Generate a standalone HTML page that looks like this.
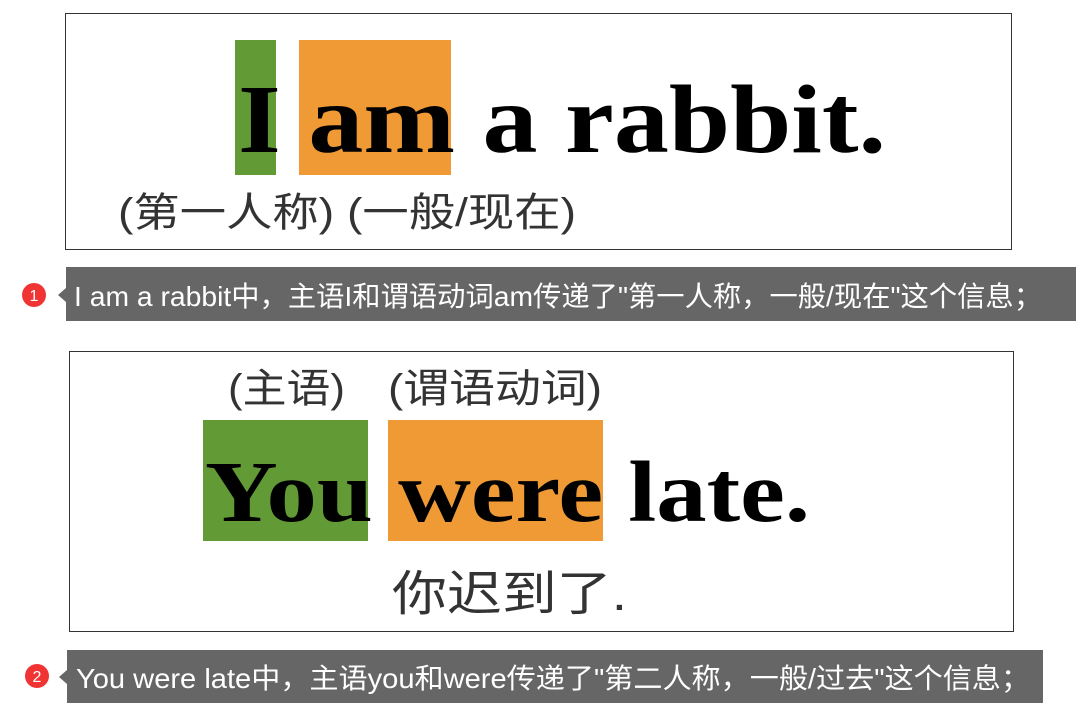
<!DOCTYPE html>
<html><head><meta charset="utf-8"><style>
html,body{margin:0;padding:0;background:#fff;}
svg{display:block;}
.cn{font-family:"Liberation Sans","Noto Sans CJK SC",sans-serif;}
.sf{font-family:"Liberation Serif","DejaVu Serif",serif;font-weight:bold;}
</style></head><body>
<svg width="1084" height="719" viewBox="0 0 1084 719" xmlns="http://www.w3.org/2000/svg">
<g>
<rect x="65.5" y="13.5" width="946" height="236" fill="#fff" stroke="#333" stroke-width="1"/>
<rect x="235" y="40" width="41" height="135" fill="#629a35"/>
<rect x="299" y="40" width="152" height="135" fill="#ef9a34"/>
<text class="sf" x="238" y="152" font-size="97" fill="#000" textLength="648" lengthAdjust="spacingAndGlyphs">I am a rabbit.</text>
<text class="cn" x="118" y="226" font-size="40" fill="#333" textLength="458" lengthAdjust="spacingAndGlyphs">(第一人称) (一般/现在)</text>
</g>
<g>
<circle cx="34" cy="295" r="12" fill="#f03434"/>
<text class="cn" x="34" y="301" font-size="16" fill="#fff" text-anchor="middle">1</text>
<path d="M66,267 H1076 V321 H66 V302 L58,295 L66,288 Z" fill="#666"/>
<text class="cn" x="74" y="306" font-size="28" fill="#fff" textLength="968" lengthAdjust="spacingAndGlyphs">I am a rabbit中，主语I和谓语动词am传递了"第一人称，一般/现在"这个信息；</text>
</g>
<g>
<rect x="69.5" y="351.5" width="944" height="280" fill="#fff" stroke="#333" stroke-width="1"/>
<text class="cn" x="228" y="402" font-size="40" fill="#333" textLength="117" lengthAdjust="spacingAndGlyphs">(主语)</text>
<text class="cn" x="388" y="402" font-size="40" fill="#333" textLength="214" lengthAdjust="spacingAndGlyphs">(谓语动词)</text>
<rect x="203" y="420" width="165" height="121" fill="#629a35"/>
<rect x="388" y="420" width="215" height="121" fill="#ef9a34"/>
<text class="sf" x="205" y="521" font-size="87" fill="#000" textLength="605" lengthAdjust="spacingAndGlyphs">You were late.</text>
<text class="cn" x="392" y="610" font-size="48" fill="#333" textLength="235" lengthAdjust="spacingAndGlyphs">你迟到了.</text>
</g>
<g>
<circle cx="37" cy="676" r="12" fill="#f03434"/>
<text class="cn" x="37" y="682" font-size="16" fill="#fff" text-anchor="middle">2</text>
<path d="M67,650 H1043 V703 H67 V684 L59,677 L67,670 Z" fill="#666"/>
<text class="cn" x="76" y="688" font-size="28" fill="#fff" textLength="954" lengthAdjust="spacingAndGlyphs">You were late中，主语you和were传递了"第二人称，一般/过去"这个信息；</text>
</g>
</svg>
</body></html>
